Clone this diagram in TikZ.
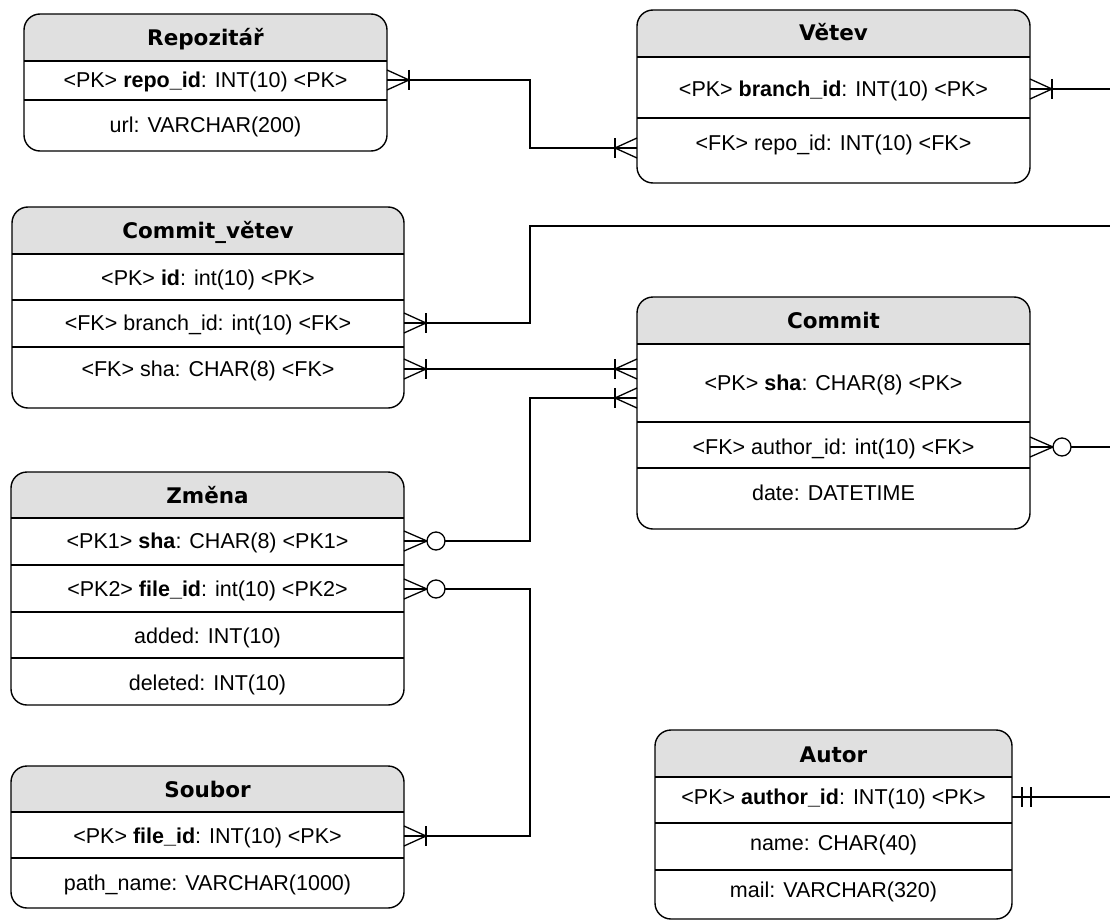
\documentclass[tikz,border=0pt]{standalone}
\usepackage{fontspec}
\setmainfont{Liberation Sans}
\newfontfamily\hdfont{DejaVu Sans}
\usetikzlibrary{calc}
\definecolor{hdrgray}{RGB}{224,224,224}
\tikzset{
  tbl/.style={line width=1.4pt, draw=black},
  conn/.style={line width=1.3pt, draw=black},
  hd/.style={font=\hdfont\bfseries\fontsize{21.5}{25}\selectfont, inner sep=0pt, text height=15.6pt, text depth=0pt},
  fld/.style={font=\fontsize{21.5}{25}\selectfont, inner sep=0pt, text height=15.4pt, text depth=0pt},
}
\newcommand\ertab[5]{%
  \begin{scope}
    \clip[rounded corners=16pt] (#1,#2) rectangle (#3,#4);
    \fill[hdrgray] (#1,#2) rectangle (#3,#5);
  \end{scope}
  \draw[tbl] (#1,#5) -- (#3,#5);
  \draw[tbl,rounded corners=16pt] (#1,#2) rectangle (#3,#4);}
\newcommand\mkmany[2]{%
  \draw[conn] ($(#1)+(0,-10)$) -- ($(#1)+(#2*22,0)$) -- ($(#1)+(0,10)$);
  \draw[conn] ($(#1)+(#2*22,-10)$) -- ($(#1)+(#2*22,10)$);}
\newcommand\mkzmany[2]{%
  \draw[conn] ($(#1)+(0,-10)$) -- ($(#1)+(#2*23,0)$) -- ($(#1)+(0,10)$);
  \draw[conn,fill=white] ($(#1)+(#2*32,0)$) circle (9pt);}
\newcommand\mkone[2]{%
  \draw[conn] ($(#1)+(#2*10,-10)$) -- ($(#1)+(#2*10,10)$);
  \draw[conn] ($(#1)+(#2*19,-10)$) -- ($(#1)+(#2*19,10)$);}
\begin{document}
\begin{tikzpicture}[x=1pt,y=-1pt]
\useasboundingbox (0,0) rectangle (1110,923);

% ---------- tables ----------
% Repozitar
\ertab{24}{14}{387}{151}{61}
\draw[tbl] (24,100) -- (387,100);
\node[hd]  (repo-h)   at (205.5,38)  {Repozitář};
\node[fld] (repo-id)  at (205.5,80)  {<PK> \textbf{repo\_id}: INT(10) <PK>};
\node[fld] (repo-url) at (205.5,125) {url: VARCHAR(200)};

% Vetev
\ertab{637}{10}{1030}{183}{57}
\draw[tbl] (637,118) -- (1030,118);
\node[hd]  (vetev-h)    at (833.5,33)  {Větev};
\node[fld] (vetev-id)   at (833.5,89)  {<PK> \textbf{branch\_id}: INT(10) <PK>};
\node[fld] (vetev-repo) at (833.5,143) {<FK> repo\_id: INT(10) <FK>};

% Commit_vetev
\ertab{12}{207}{404}{408}{254}
\draw[tbl] (12,300) -- (404,300);
\draw[tbl] (12,347) -- (404,347);
\node[hd]  (cv-h)   at (208,231) {Commit\_větev};
\node[fld] (cv-id)  at (208,278) {<PK> \textbf{id}: int(10) <PK>};
\node[fld] (cv-br)  at (208,323) {<FK> branch\_id: int(10) <FK>};
\node[fld] (cv-sha) at (208,369) {<FK> sha: CHAR(8) <FK>};

% Commit
\ertab{637}{297}{1030}{529}{344}
\draw[tbl] (637,422) -- (1030,422);
\draw[tbl] (637,468) -- (1030,468);
\node[hd]  (commit-h)    at (833.5,321) {Commit};
\node[fld] (commit-sha)  at (833.5,383) {<PK> \textbf{sha}: CHAR(8) <PK>};
\node[fld] (commit-auth) at (833.5,447) {<FK> author\_id: int(10) <FK>};
\node[fld] (commit-date) at (833.5,493) {date: DATETIME};

% Zmena
\ertab{11}{472}{404}{705}{518}
\draw[tbl] (11,565) -- (404,565);
\draw[tbl] (11,612) -- (404,612);
\draw[tbl] (11,658) -- (404,658);
\node[hd]  (zm-h)    at (207.5,496) {Změna};
\node[fld] (zm-sha)  at (207.5,541) {<PK1> \textbf{sha}: CHAR(8) <PK1>};
\node[fld] (zm-file) at (207.5,589) {<PK2> \textbf{file\_id}: int(10) <PK2>};
\node[fld] (zm-add)  at (207.5,636) {added: INT(10)};
\node[fld] (zm-del)  at (207.5,683) {deleted: INT(10)};

% Soubor
\ertab{11}{766}{404}{908}{812}
\draw[tbl] (11,858) -- (404,858);
\node[hd]  (sb-h)    at (207.5,790) {Soubor};
\node[fld] (sb-id)   at (207.5,836) {<PK> \textbf{file\_id}: INT(10) <PK>};
\node[fld] (sb-path) at (207.5,883) {path\_name: VARCHAR(1000)};

% Autor
\ertab{655}{730}{1012}{919}{777}
\draw[tbl] (655,823) -- (1012,823);
\draw[tbl] (655,870) -- (1012,870);
\node[hd]  (au-h)    at (833.5,755) {Autor};
\node[fld] (au-id)   at (833.5,797) {<PK> \textbf{author\_id}: INT(10) <PK>};
\node[fld] (au-name) at (833.5,843) {name: CHAR(40)};
\node[fld] (au-mail) at (833.5,890) {mail: VARCHAR(320)};

% ---------- connector end points ----------
\coordinate (bus) at (530,0);
\coordinate (repo-id-e)     at (387,80);
\coordinate (vetev-repo-w)  at (637,148);
\coordinate (vetev-id-e)    at (1030,89);
\coordinate (cv-br-e)       at (404,323);
\coordinate (cv-sha-e)      at (404,369);
\coordinate (commit-sha-w1) at (637,369);
\coordinate (commit-sha-w2) at (637,398);
\coordinate (zm-sha-e)      at (404,541);
\coordinate (zm-file-e)     at (404,589);
\coordinate (sb-id-e)       at (404,836);
\coordinate (commit-auth-e) at (1030,447);
\coordinate (au-id-e)       at (1012,797);
\coordinate (off1) at (1110,89);
\coordinate (off2) at (1110,226);
\coordinate (off3) at (1110,447);
\coordinate (off4) at (1110,797);

% ---------- connectors ----------
\draw[conn] (repo-id-e) -- (repo-id-e -| bus) |- (vetev-repo-w);
\draw[conn] (vetev-id-e) -- (off1);
\draw[conn] (cv-br-e) -- (cv-br-e -| bus) |- (off2);
\draw[conn] (cv-sha-e) -- (commit-sha-w1);
\draw[conn] (zm-sha-e) -- (zm-sha-e -| bus) |- (commit-sha-w2);
\draw[conn] (zm-file-e) -- (zm-file-e -| bus) |- (sb-id-e);
\draw[conn] (commit-auth-e) -- (off3);
\draw[conn] (au-id-e) -- (off4);

% ---------- markers ----------
\mkmany{repo-id-e}{1}
\mkmany{vetev-repo-w}{-1}
\mkmany{vetev-id-e}{1}
\mkmany{cv-br-e}{1}
\mkmany{cv-sha-e}{1}
\mkmany{commit-sha-w1}{-1}
\mkmany{commit-sha-w2}{-1}
\mkzmany{zm-sha-e}{1}
\mkzmany{zm-file-e}{1}
\mkmany{sb-id-e}{1}
\mkzmany{commit-auth-e}{1}
\mkone{au-id-e}{1}
\end{tikzpicture}
\end{document}
